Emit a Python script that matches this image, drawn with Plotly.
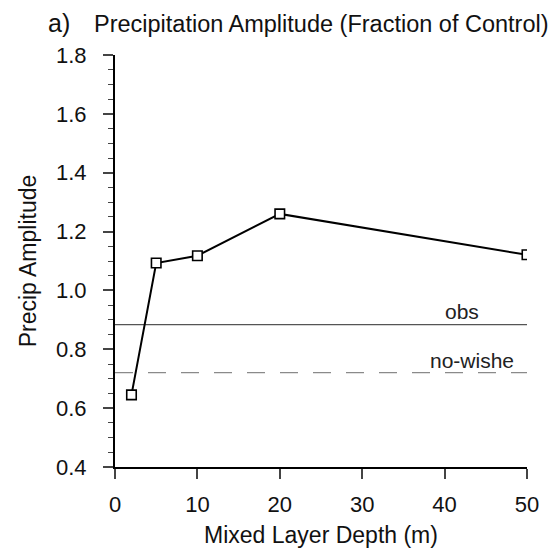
import plotly.graph_objects as go

depth = [2, 5, 10, 20, 50]
precip_amp = [0.645, 1.093, 1.118, 1.260, 1.121]
ref_x = [0, 50]
obs_val = 0.884
nowishe_val = 0.721
x_ticks = [0, 10, 20, 30, 40, 50]
y_ticks = [0.4, 0.6, 0.8, 1.0, 1.2, 1.4, 1.6, 1.8]

FONT = "Liberation Sans, Arial, Helvetica, sans-serif"
L, R, T, B = 114.5, 30, 55, 81
W, H = 557, 548
PW, PH = W - L - R, H - T - B


def px_x(px):
    return (px - L) / PW


def px_y(py):
    return 1 - (py - T) / PH


fig = go.Figure()
fig.add_trace(go.Scatter(x=ref_x, y=[obs_val] * 2, mode="lines",
                         line=dict(color="#555555", width=1.3), showlegend=False))
fig.add_trace(go.Scatter(x=ref_x, y=[nowishe_val] * 2, mode="lines",
                         line=dict(color="#8a8a8a", width=1.3, dash="18px,15px"), showlegend=False))
fig.add_trace(go.Scatter(x=depth, y=precip_amp, mode="lines+markers",
                         line=dict(color="black", width=2),
                         marker=dict(symbol="square", size=9.5, color="white",
                                     line=dict(color="black", width=1.6)),
                         showlegend=False))

fig.add_annotation(x=42.1, y=obs_val, text="obs", showarrow=False, yanchor="middle",
                   yshift=13, font=dict(family=FONT, size=21, color="#222"))
fig.add_annotation(x=43.3, y=nowishe_val, text="no-wishe", showarrow=False, yanchor="middle",
                   yshift=12, font=dict(family=FONT, size=21, color="#222"))

fig.add_annotation(x=px_x(45), y=px_y(23), xref="paper", yref="paper", text="a)", showarrow=False,
                   xanchor="left", yanchor="middle", font=dict(family=FONT, size=25, color="#111"))
fig.add_annotation(x=px_x(91), y=px_y(24), xref="paper", yref="paper",
                   text="Precipitation Amplitude (Fraction of Control)",
                   showarrow=False, xanchor="left", yanchor="middle",
                   font=dict(family=FONT, size=23.5, color="#111"))

fig.update_layout(
    width=W, height=H,
    margin=dict(l=L, r=R, t=T, b=B, autoexpand=False),
    paper_bgcolor="white", plot_bgcolor="white",
    font=dict(family=FONT, size=22, color="#111"),
    xaxis=dict(range=[0, 50], tickvals=x_ticks, ticks="outside", ticklen=10, tickwidth=2,
               ticklabelstandoff=7, automargin=False,
               showline=True, linecolor="black", linewidth=2, showgrid=False, zeroline=False,
               title=dict(text="Mixed Layer Depth (m)", font=dict(size=23), standoff=11),
               tickfont=dict(size=22)),
    yaxis=dict(range=[0.4, 1.8], tickvals=y_ticks, tickformat=".1f", ticks="outside", ticklen=10,
               tickwidth=2, ticklabelstandoff=12, automargin=False,
               showline=True, linecolor="black", linewidth=2, showgrid=False,
               zeroline=False,
               minor=dict(dtick=0.05, tick0=0.4, ticks="outside", ticklen=5, tickwidth=1.2,
                          tickcolor="#444", showgrid=False),
               title=dict(text="Precip Amplitude", font=dict(size=23), standoff=13),
               tickfont=dict(size=22)),
)
fig.write_html("out.html", config={"displayModeBar": False},
               post_script="document.body.style.margin='0';")
